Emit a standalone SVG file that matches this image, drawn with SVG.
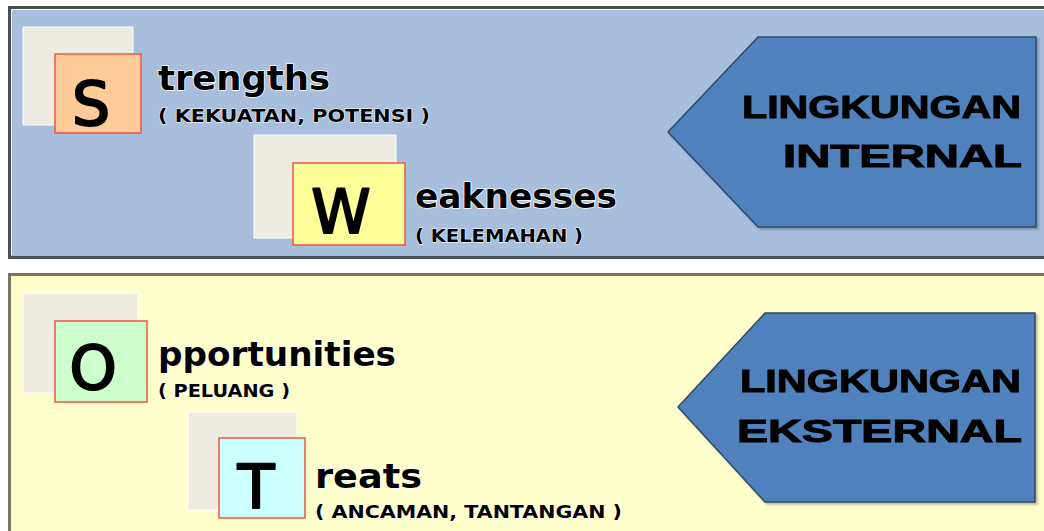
<svg xmlns="http://www.w3.org/2000/svg" width="1044" height="531" viewBox="0 0 1044 531">
  <defs>
    <filter id="shadow" x="-10%" y="-10%" width="125%" height="125%">
      <feDropShadow dx="2" dy="2" stdDeviation="1.2" flood-color="#000" flood-opacity="0.25"/>
    </filter>
  </defs>
  <style>
    .panel-int { fill: #a7bfdd; stroke: #4a5058; stroke-width: 3; }
    .panel-ext { fill: #ffffcc; stroke: #77775a; stroke-width: 3; }
    .back { fill: #eeebe0; stroke: #ffffff; stroke-width: 1; }
    .tile { stroke: #ee5544; stroke-width: 1.5; }
    .letter { font-family: "DejaVu Sans", "Liberation Sans", sans-serif; font-size: 60px; fill: #000; stroke: #000; stroke-width: 2.2; stroke-linejoin: round; text-anchor: middle; }
    .word { font-family: "DejaVu Sans", "Liberation Sans", sans-serif; font-weight: bold; font-size: 33px; fill: #000; stroke: #ffffff; stroke-width: 1.5; paint-order: stroke; }
    .sub { font-family: "DejaVu Sans", "Liberation Sans", sans-serif; font-weight: bold; font-size: 17px; fill: #000; stroke: #ffffff; stroke-width: 1; paint-order: stroke; }
    .tag { fill: #4f81bd; stroke: #2f4a6a; stroke-width: 1.5; }
    .tag-text { font-family: "Liberation Sans", Arial, sans-serif; font-weight: bold; font-size: 31px; fill: #000; stroke: #000; stroke-width: 1; text-anchor: end; }
  </style>

  <rect width="1044" height="531" fill="#ffffff"/>

  <!-- upper band: internal factors -->
  <rect class="panel-int" x="9.5" y="7.5" width="1050" height="250"/>
  <line x1="11.5" y1="9.5" x2="1044" y2="9.5" stroke="#ffffff" stroke-width="1"/>
  <line x1="11.5" y1="9.5" x2="11.5" y2="255" stroke="#ffffff" stroke-width="1"/>

  <!-- lower band: external factors -->
  <rect class="panel-ext" x="9.5" y="274.5" width="1050" height="270"/>

  <g id="node-s">
    <rect class="back" x="23" y="27" width="110" height="98"/>
    <rect class="tile" x="55" y="54" width="86" height="79" fill="#ffcc99"/>
    <text class="letter" x="91" y="125">S</text>
    <text class="word" x="158" y="90" textLength="172" lengthAdjust="spacingAndGlyphs">trengths</text>
    <text class="sub" x="158" y="122" textLength="272" lengthAdjust="spacingAndGlyphs">( KEKUATAN, POTENSI )</text>
  </g>

  <g id="node-w">
    <rect class="back" x="254" y="135" width="142" height="103"/>
    <rect class="tile" x="293" y="163" width="112" height="82" fill="#ffff99"/>
    <text class="letter" x="341" y="233">W</text>
    <text class="word" x="415" y="208" textLength="202" lengthAdjust="spacingAndGlyphs">eaknesses</text>
    <text class="sub" x="415" y="242" textLength="168" lengthAdjust="spacingAndGlyphs">( KELEMAHAN )</text>
  </g>

  <g id="node-internal" filter="url(#shadow)">
    <polygon class="tag" points="758,37 1036,37 1036,227 758,227 668,132"/>
    <text class="tag-text" x="1021" y="118" textLength="279" lengthAdjust="spacingAndGlyphs">LINGKUNGAN</text>
    <text class="tag-text" x="1022" y="167" textLength="239" lengthAdjust="spacingAndGlyphs">INTERNAL</text>
  </g>

  <g id="node-o">
    <rect class="back" x="23" y="293" width="115" height="100"/>
    <rect class="tile" x="55" y="321" width="92" height="81" fill="#ccffcc"/>
    <text class="letter" x="93" y="389">O</text>
    <text class="word" x="158" y="366" textLength="238" lengthAdjust="spacingAndGlyphs">pportunities</text>
    <text class="sub" x="158" y="397" textLength="132" lengthAdjust="spacingAndGlyphs">( PELUANG )</text>
  </g>

  <g id="node-t">
    <rect class="back" x="188" y="412" width="109" height="98"/>
    <rect class="tile" x="219" y="438" width="86" height="80" fill="#ccffff"/>
    <text class="letter" x="256" y="508">T</text>
    <text class="word" x="315" y="488" textLength="107" lengthAdjust="spacingAndGlyphs">reats</text>
    <text class="sub" x="315" y="518" textLength="307" lengthAdjust="spacingAndGlyphs">( ANCAMAN, TANTANGAN )</text>
  </g>

  <g id="node-external" filter="url(#shadow)">
    <polygon class="tag" points="765,313 1035,313 1035,502 765,502 678,407"/>
    <text class="tag-text" x="1021" y="392" textLength="281" lengthAdjust="spacingAndGlyphs">LINGKUNGAN</text>
    <text class="tag-text" x="1022" y="442" textLength="285" lengthAdjust="spacingAndGlyphs">EKSTERNAL</text>
  </g>

  <g id="connectors"></g>
</svg>
